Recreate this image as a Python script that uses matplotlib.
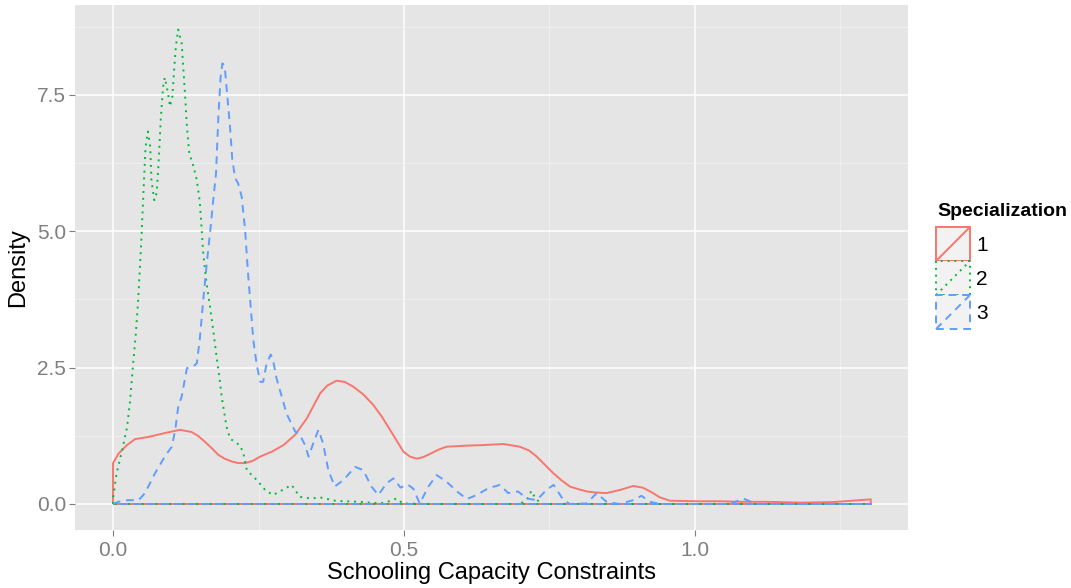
import numpy as np
import matplotlib
matplotlib.use("Agg")
import matplotlib.pyplot as plt
from matplotlib.legend_handler import HandlerBase
from matplotlib.lines import Line2D
from matplotlib.patches import Rectangle

plt.rcParams['font.family'] = ['Liberation Sans', 'DejaVu Sans']

# densita' stimate (x = Schooling Capacity Constraints)
x_end = 1.302

x_spec1 = [0.0, 0.01, 0.024, 0.038, 0.061, 0.089, 0.115, 0.135, 0.146, 0.158,
           0.170, 0.181, 0.192, 0.204, 0.215, 0.227, 0.240, 0.253, 0.273, 0.293,
           0.313, 0.333, 0.356, 0.368, 0.384, 0.398, 0.413, 0.430, 0.447, 0.462,
           0.476, 0.488, 0.499, 0.510, 0.522, 0.533, 0.545, 0.560, 0.573, 0.590,
           0.608, 0.636, 0.671, 0.699, 0.715, 0.728, 0.742, 0.757, 0.770, 0.785,
           0.800, 0.814, 0.830, 0.848, 0.872, 0.894, 0.910, 0.923, 0.940, 0.957,
           1.003, 1.043, 1.077, 1.123, 1.180, 1.237, 1.270, 1.302]
y_spec1 = [0.75, 0.93, 1.08, 1.19, 1.23, 1.30, 1.36, 1.32, 1.25, 1.14,
           1.02, 0.90, 0.83, 0.78, 0.75, 0.75, 0.79, 0.87, 0.96, 1.08,
           1.27, 1.57, 2.03, 2.17, 2.26, 2.24, 2.15, 2.01, 1.82, 1.60,
           1.36, 1.15, 0.96, 0.87, 0.83, 0.86, 0.92, 1.00, 1.05, 1.06,
           1.07, 1.08, 1.10, 1.05, 0.98, 0.87, 0.72, 0.56, 0.44, 0.32,
           0.27, 0.23, 0.21, 0.20, 0.26, 0.33, 0.30, 0.23, 0.12, 0.06,
           0.05, 0.05, 0.04, 0.04, 0.025, 0.035, 0.06, 0.085]

x_spec2 = [0.0, 0.006, 0.016, 0.024, 0.029, 0.034, 0.039, 0.043, 0.046, 0.049,
           0.051, 0.054, 0.056, 0.060, 0.064, 0.066, 0.071, 0.075, 0.078, 0.082,
           0.086, 0.089, 0.094, 0.098, 0.102, 0.105, 0.108, 0.112, 0.118, 0.121,
           0.124, 0.127, 0.131, 0.138, 0.144, 0.149, 0.152, 0.155, 0.158, 0.162,
           0.167, 0.172, 0.178, 0.183, 0.187, 0.195, 0.201, 0.213, 0.218, 0.224,
           0.230, 0.247, 0.262, 0.275, 0.290, 0.307, 0.321, 0.340, 0.356, 0.384,
           0.424, 0.459, 0.478, 0.487, 0.498, 0.520, 0.550, 0.700, 0.712, 0.719,
           0.727, 0.740, 1.302]
y_spec2 = [0.10, 0.55, 1.00, 1.40, 1.85, 2.50, 3.10, 3.70, 4.30, 4.90,
           5.40, 6.12, 6.55, 6.83, 6.55, 5.94, 5.57, 5.70, 6.19, 7.04,
           7.65, 7.82, 7.56, 7.29, 7.47, 7.96, 8.39, 8.70, 8.45, 7.96,
           7.47, 6.92, 6.43, 6.20, 5.94, 5.55, 5.10, 4.60, 4.30, 3.95,
           3.60, 3.20, 2.70, 2.30, 1.95, 1.42, 1.20, 1.11, 1.08, 0.93,
           0.62, 0.44, 0.25, 0.165, 0.25, 0.35, 0.13, 0.10, 0.12, 0.055,
           0.04, 0.01, 0.06, 0.10, 0.01, 0.005, 0.0, 0.0, 0.10, 0.24,
           0.08, 0.0, 0.0]

x_spec3 = [0.0, 0.009, 0.026, 0.044, 0.055, 0.072, 0.089, 0.101, 0.107, 0.112,
           0.118, 0.127, 0.138, 0.144, 0.149, 0.155, 0.161, 0.167, 0.172, 0.177,
           0.181, 0.185, 0.188, 0.192, 0.196, 0.201, 0.205, 0.210, 0.215, 0.221,
           0.227, 0.232, 0.237, 0.241, 0.247, 0.253, 0.258, 0.264, 0.271, 0.275,
           0.281, 0.290, 0.298, 0.313, 0.321, 0.330, 0.336, 0.344, 0.353, 0.361,
           0.370, 0.381, 0.396, 0.416, 0.430, 0.444, 0.456, 0.470, 0.482, 0.494,
           0.506, 0.516, 0.527, 0.542, 0.556, 0.573, 0.591, 0.608, 0.625, 0.645,
           0.665, 0.679, 0.696, 0.711, 0.728, 0.745, 0.757, 0.774, 0.785, 0.814,
           0.831, 0.848, 0.870, 0.894, 0.908, 0.923, 0.940, 1.060, 1.083, 1.105,
           1.302]
y_spec3 = [0.0, 0.04, 0.07, 0.07, 0.20, 0.56, 0.87, 1.05, 1.36, 1.78,
           1.97, 2.49, 2.52, 2.58, 3.01, 3.74, 4.40, 5.00, 5.55, 6.06,
           7.10, 7.84, 8.08, 8.02, 7.53, 6.92, 6.31, 5.97, 5.88, 5.64,
           5.02, 4.23, 3.56, 3.01, 2.55, 2.24, 2.24, 2.58, 2.74, 2.64,
           2.30, 1.97, 1.66, 1.33, 1.27, 1.08, 0.87, 1.11, 1.36, 1.11,
           0.62, 0.32, 0.44, 0.68, 0.62, 0.32, 0.165, 0.38, 0.47, 0.30,
           0.36, 0.28, 0.01, 0.32, 0.53, 0.41, 0.23, 0.09, 0.165, 0.29,
           0.35, 0.20, 0.23, 0.10, 0.07, 0.26, 0.35, 0.07, 0.0, 0.01,
           0.20, 0.04, 0.0, 0.07, 0.15, 0.04, 0.0, 0.0, 0.10, 0.0,
           0.0]

labels = ['1', '2', '3']
series = [(x_spec1, y_spec1), (x_spec2, y_spec2), (x_spec3, y_spec3)]
colors = ['#F8766D', '#00BA38', '#619CFF']
dashes = [(0, ()), (0, (1, 2.5)), (0, (4, 3))]
lw = 1.4


class DensityKey(HandlerBase):
    # chiave stile ggplot: quadrato grigio chiaro con bordo e diagonale
    def __init__(self, color, ls):
        super().__init__()
        self.color = color
        self.ls = ls

    def create_artists(self, legend, orig_handle, xdescent, ydescent,
                       width, height, fontsize, trans):
        box = Rectangle((-xdescent, -ydescent), width, height,
                        facecolor='#F2F2F2', edgecolor=self.color,
                        linestyle=self.ls, linewidth=lw, transform=trans)
        diag = Line2D([-xdescent, -xdescent + width],
                      [-ydescent, -ydescent + height],
                      color=self.color, linestyle=self.ls, linewidth=lw,
                      transform=trans)
        return [box, diag]


fig = plt.figure(figsize=(10.71, 5.88), dpi=100)
ax = fig.add_axes([75 / 1071, 58 / 588, 833 / 1071, 525 / 588])
ax.set_facecolor('#E5E5E5')

handles = []
handler_map = {}
for (xs, ys), c, ls, lab in zip(series, colors, dashes, labels):
    # poligono chiuso come geom_density (linea di base inclusa)
    px = np.concatenate([[0.0], xs, [x_end, 0.0]])
    py = np.concatenate([[0.0], ys, [0.0, 0.0]])
    line, = ax.plot(px, py, color=c, linestyle=ls, linewidth=lw, label=lab)
    handles.append(line)
    handler_map[line] = DensityKey(c, ls)

ax.set_xlim(-0.0653, 1.366)
ax.set_ylim(-0.477, 9.15)

ax.set_xticks([0.0, 0.5, 1.0])
ax.set_xticklabels(['0.0', '0.5', '1.0'])
ax.set_yticks([0.0, 2.5, 5.0, 7.5])
ax.set_yticklabels(['0.0', '2.5', '5.0', '7.5'])
ax.set_xticks([0.25, 0.75, 1.25], minor=True)
ax.set_yticks([1.25, 3.75, 6.25, 8.75], minor=True)

ax.grid(which='major', color='white', linewidth=1.1)
ax.grid(which='minor', color='#F2F2F2', linewidth=0.6)
ax.set_axisbelow(True)
for s in ax.spines.values():
    s.set_visible(False)

ax.tick_params(which='major', length=4.5, width=0.8, color='#7F7F7F',
               labelcolor='#7F7F7F', labelsize=15)
ax.tick_params(axis='x', pad=3.5)
ax.tick_params(axis='y', pad=2)
ax.tick_params(which='minor', length=0)

ax.set_xlabel('Schooling Capacity Constraints', fontsize=17, va='center')
ax.set_ylabel('Density', fontsize=17, va='center')
ax.xaxis.set_label_coords(0.5, -0.081)
ax.yaxis.set_label_coords(-0.0684, 0.5)

# titolo della legenda separato per posizionarlo meglio
fig.text(937 / 1071, 1 - 212 / 588, 'Specialization', fontsize=14,
         fontweight='bold', va='center', ha='left')

leg = fig.legend(handles=handles, labels=labels, handler_map=handler_map,
                 loc='upper left', bbox_to_anchor=(936 / 1071, 1 - 227 / 588),
                 frameon=False, fontsize=15,
                 handlelength=1.63, handleheight=2.135, labelspacing=0.0,
                 handletextpad=0.29, borderpad=0.0, borderaxespad=0.0)

fig.savefig('out.png', dpi=100)
